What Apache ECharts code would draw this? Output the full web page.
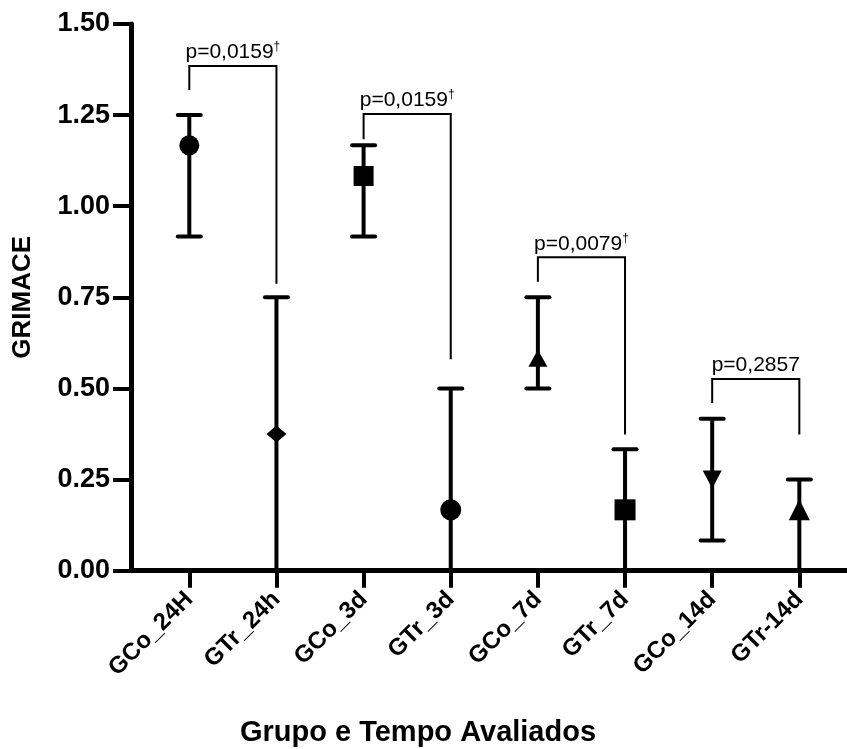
<!DOCTYPE html>
<html>
<head>
<meta charset="utf-8">
<script src="https://cdn.jsdelivr.net/npm/echarts@6/dist/echarts.min.js"></script>
<style>
html,body{margin:0;padding:0;background:#fff;}
#chart{width:847px;height:749px;}
</style>
</head>
<body>
<div id="chart"></div>
<script>
// ---- data ----
const categories = ['GCo_24H', 'GTr_24h', 'GCo_3d', 'GTr_3d', 'GCo_7d', 'GTr_7d', 'GCo_14d', 'GTr-14d'];
const means = [1.167, 0.375, 1.083, 0.167, 0.583, 0.167, 0.25, 0.167];
const lower = [0.917, 0, 0.917, 0, 0.5, 0, 0.083, 0];
const upper = [1.25, 0.75, 1.167, 0.5, 0.75, 0.333, 0.417, 0.25];
const yTicks = [0, 0.25, 0.5, 0.75, 1.0, 1.25, 1.5];

// significance brackets
const bracketLeft = [0, 2, 4, 6];
const bracketRight = [1, 3, 5, 7];
const bracketTop = [1.385, 1.253, 0.86, 0.526];
const bracketLeftEnd = [1.319, 1.184, 0.793, 0.46];
const bracketRightEnd = [0.787, 0.58, 0.374, 0.374];
const pValues = ['p=0,0159', 'p=0,0159', 'p=0,0079', 'p=0,2857'];
const pDagger = [true, true, true, false];

// ---- styles ----
const FONT = '"Liberation Sans", Arial, Helvetica, sans-serif';
const markerShapes = [
  {symbol: 'circle', size: 20, rotate: 0},
  {symbol: 'diamond', size: [20, 17], rotate: 0},
  {symbol: 'rect', size: 20, rotate: 0},
  {symbol: 'circle', size: 21, rotate: 0},
  {symbol: 'triangle', size: [19, 17], rotate: 0},
  {symbol: 'rect', size: 21, rotate: 0},
  {symbol: 'triangle', size: [19, 18], rotate: 180},
  {symbol: 'triangle', size: [21, 21], rotate: 0}
];

const chart = echarts.init(document.getElementById('chart'), null, {renderer: 'canvas'});

const errData = categories.map((c, i) => [i, lower[i], upper[i]]);
const scatterData = categories.map((c, i) => ({
  value: [i, means[i]],
  symbol: markerShapes[i].symbol,
  symbolSize: markerShapes[i].size,
  symbolRotate: markerShapes[i].rotate
}));
const bracketData = bracketLeft.map((l, k) => [l, bracketRight[k], bracketTop[k], bracketLeftEnd[k], bracketRightEnd[k], k]);

const option = {
  animation: false,
  backgroundColor: '#ffffff',
  grid: {left: 131, right: 0, top: 24, bottom: 178.3, containLabel: false},
  xAxis: {
    type: 'value',
    min: -0.669,
    max: 7.547,
    splitLine: {show: false},
    axisLine: {show: true, onZero: false, lineStyle: {color: '#000', width: 5}},
    axisTick: {show: true, customValues: categories.map((c, i) => i), length: 17, lineStyle: {color: '#000', width: 4}},
    axisLabel: {
      show: true,
      customValues: categories.map((c, i) => i),
      formatter: v => categories[Math.round(v)] || '',
      rotate: 45,
      margin: 25,
      color: '#000',
      fontFamily: FONT,
      fontWeight: 'bold',
      fontSize: 24
    }
  },
  yAxis: {
    type: 'value',
    min: 0,
    max: 1.5,
    interval: 0.25,
    splitLine: {show: false},
    axisLine: {show: true, onZero: false, lineStyle: {color: '#000', width: 5}},
    axisTick: {show: true, length: 18, lineStyle: {color: '#000', width: 4}},
    axisLabel: {
      formatter: v => v.toFixed(2),
      margin: 21,
      color: '#000',
      fontFamily: FONT,
      fontWeight: 'bold',
      fontSize: 27
    },
    name: 'GRIMACE',
    nameLocation: 'middle',
    nameRotate: 90,
    nameGap: 95,
    nameTextStyle: {color: '#000', fontFamily: FONT, fontWeight: 'bold', fontSize: 26}
  },
  graphic: [{
    type: 'text',
    x: 418,
    y: 733,
    style: {
      text: 'Grupo e Tempo Avaliados',
      fill: '#000',
      font: 'bold 29px ' + FONT,
      textAlign: 'center',
      textVerticalAlign: 'middle'
    }
  }],
  series: [
    {
      type: 'custom',
      name: 'err',
      data: errData,
      clip: false,
      z: 2,
      renderItem: function (params, api) {
        const x = api.value(0);
        const lo = api.coord([x, api.value(1)]);
        const hi = api.coord([x, api.value(2)]);
        const hw = 11.5;
        const st = {stroke: '#000', lineWidth: 4, lineCap: 'round'};
        return {
          type: 'group',
          children: [
            {type: 'line', shape: {x1: lo[0], y1: lo[1], x2: hi[0], y2: hi[1]}, style: {stroke: '#000', lineWidth: 4}},
            {type: 'line', shape: {x1: hi[0] - hw, y1: hi[1], x2: hi[0] + hw, y2: hi[1]}, style: st},
            {type: 'line', shape: {x1: lo[0] - hw, y1: lo[1], x2: lo[0] + hw, y2: lo[1]}, style: st}
          ]
        };
      }
    },
    {
      type: 'scatter',
      name: 'mean',
      data: scatterData,
      z: 3,
      itemStyle: {color: '#000', opacity: 1},
      emphasis: {disabled: true}
    },
    {
      type: 'custom',
      name: 'brackets',
      data: bracketData,
      clip: false,
      z: 4,
      renderItem: function (params, api) {
        const l = api.value(0), r = api.value(1), t = api.value(2);
        const le = api.value(3), re = api.value(4), k = api.value(5);
        const p1 = api.coord([l, le]);
        const p2 = api.coord([l, t]);
        const p3 = api.coord([r, t]);
        const p4 = api.coord([r, re]);
        const label = pDagger[k] ? '{a|' + pValues[k] + '}{s|†}' : '{a|' + pValues[k] + '}';
        return {
          type: 'group',
          children: [
            {type: 'polyline', shape: {points: [p1, p2, p3, p4]}, style: {stroke: '#000', lineWidth: 2, fill: null}},
            {
              type: 'text',
              x: (p2[0] + p3[0]) / 2,
              y: p2[1] - 3,
              style: {
                text: label,
                textAlign: 'center',
                textVerticalAlign: 'bottom',
                rich: {
                  a: {fontSize: 21, fontFamily: FONT, fill: '#000', lineHeight: 22, verticalAlign: 'bottom'},
                  s: {fontSize: 12, fontFamily: FONT, fill: '#000', lineHeight: 22, verticalAlign: 'top', padding: [0, 0, 8, 0]}
                }
              }
            }
          ]
        };
      }
    }
  ]
};
chart.setOption(option);
</script>
</body>
</html>
